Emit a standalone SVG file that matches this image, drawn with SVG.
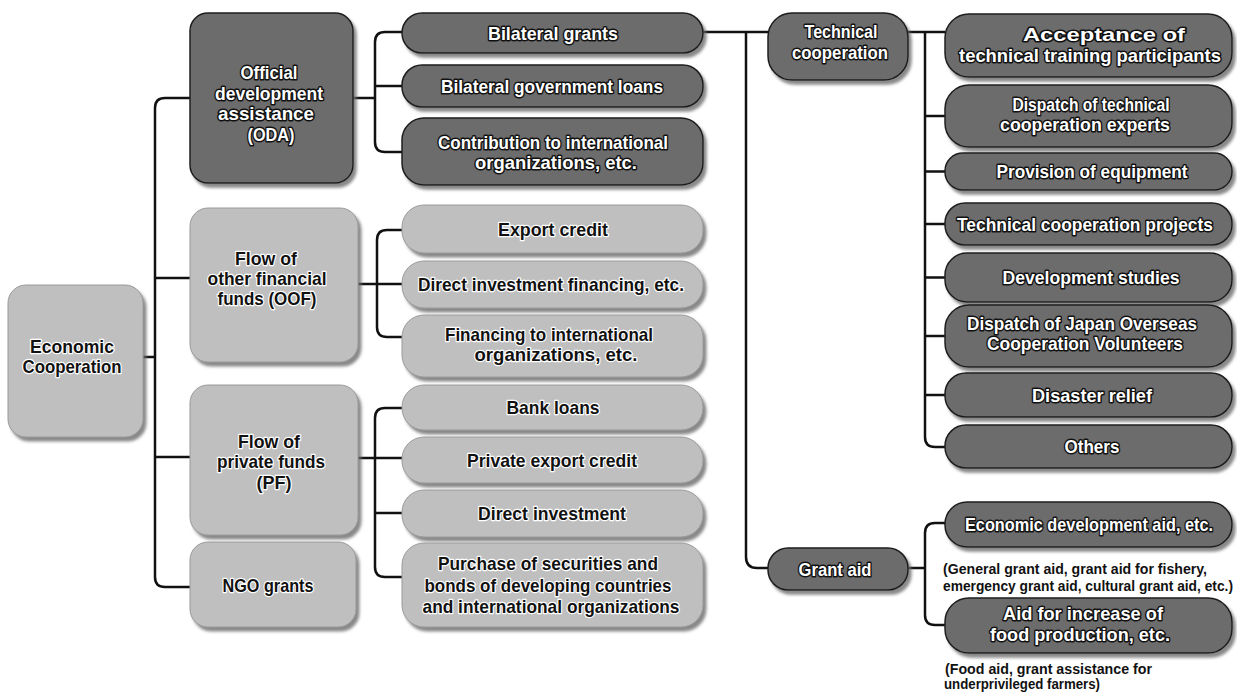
<svg xmlns="http://www.w3.org/2000/svg" width="1237" height="693" viewBox="0 0 1237 693">
<defs>
<filter id="sh" x="-10%" y="-10%" width="125%" height="130%">
<feDropShadow dx="3" dy="4" stdDeviation="1.5" flood-color="#6a6a6a" flood-opacity="0.8"/>
</filter>
</defs>
<style>
.dk{fill:#6c6c6c;stroke:#1e1e1e;stroke-width:1.5;filter:url(#sh)}
.lt{fill:#bfbfbf;stroke:#9a9a9a;stroke-width:1;filter:url(#sh)}
text{font-family:"Liberation Sans",Arial,sans-serif;font-weight:bold;font-size:19px;text-anchor:middle;paint-order:stroke;stroke-linejoin:round}
.w{fill:#fff;stroke:#111;stroke-width:3}
.b{fill:#111;stroke:#fff;stroke-width:2.5}
.cap{fill:#111;font-size:14px;text-anchor:start;stroke:none}
.ln{fill:none;stroke:#111;stroke-width:2.5}
</style>
<rect width="1237" height="693" fill="#fff"/>
<g id="connectors">
<path class="ln" d="M143,357 H155 M190,98 H165 Q155,98 155,108 V577 Q155,587 165,587 H190 M155,278 H190 M155,457 H190"/>
<path class="ln" d="M353,98 H375 M402,32 H385 Q375,32 375,42 V142 Q375,152 385,152 H402 M375,86 H402"/>
<path class="ln" d="M358,284 H402 M402,230 H387 Q377,230 377,240 V327 Q377,337 387,337 H402"/>
<path class="ln" d="M358,458 H402 M402,408 H385 Q375,408 375,418 V567 Q375,577 385,577 H402 M375,513 H402"/>
<path class="ln" d="M703,32 H768 M746,32 V557 Q746,568 757,568 H768"/>
<path class="ln" d="M908,32 H945 M925,32 V437 Q925,447 935,447 H945 M925,116 H945 M925,171.5 H945 M925,224 H945 M925,277.5 H945 M925,336 H945 M925,395 H945"/>
<path class="ln" d="M908,568 H925 M945,523 H935 Q925,523 925,533 V615 Q925,625 935,625 H945"/>
</g>
<g id="n-econ"><rect class="lt" x="8" y="285" width="135" height="152" rx="18"/><text class="b" x="72" y="353" textLength="84" lengthAdjust="spacingAndGlyphs">Economic</text><text class="b" x="72" y="373" textLength="99" lengthAdjust="spacingAndGlyphs">Cooperation</text></g>
<g id="n-oda"><rect class="dk" x="190" y="13" width="163" height="170" rx="18"/><text class="w" x="269" y="79" textLength="57" lengthAdjust="spacingAndGlyphs">Official</text><text class="w" x="269" y="100" textLength="108" lengthAdjust="spacingAndGlyphs">development</text><text class="w" x="266" y="120" textLength="96" lengthAdjust="spacingAndGlyphs">assistance</text><text class="w" x="271" y="141" textLength="47" lengthAdjust="spacingAndGlyphs">(ODA)</text></g>
<g id="n-oof"><rect class="lt" x="190" y="208" width="168" height="154" rx="18"/><text class="b" x="266" y="265" textLength="62" lengthAdjust="spacingAndGlyphs">Flow of</text><text class="b" x="267" y="285" textLength="119" lengthAdjust="spacingAndGlyphs">other financial</text><text class="b" x="267" y="305" textLength="99" lengthAdjust="spacingAndGlyphs">funds (OOF)</text></g>
<g id="n-pf"><rect class="lt" x="190" y="385" width="168" height="150" rx="18"/><text class="b" x="269" y="448" textLength="62" lengthAdjust="spacingAndGlyphs">Flow of</text><text class="b" x="271" y="468" textLength="108" lengthAdjust="spacingAndGlyphs">private funds</text><text class="b" x="274" y="489" textLength="35" lengthAdjust="spacingAndGlyphs">(PF)</text></g>
<g id="n-ngo"><rect class="lt" x="190" y="542" width="166" height="85" rx="18"/><text class="b" x="268" y="592" textLength="91" lengthAdjust="spacingAndGlyphs">NGO grants</text></g>
<g id="n-bg"><rect class="dk" x="402" y="13" width="301" height="40" rx="20"/><text class="w" x="553" y="40" textLength="130" lengthAdjust="spacingAndGlyphs">Bilateral grants</text></g>
<g id="n-bgl"><rect class="dk" x="402" y="65" width="301" height="42" rx="20"/><text class="w" x="552" y="93" textLength="222" lengthAdjust="spacingAndGlyphs">Bilateral government loans</text></g>
<g id="n-contrib"><rect class="dk" x="402" y="118" width="301" height="67" rx="22"/><text class="w" x="553" y="149" textLength="230" lengthAdjust="spacingAndGlyphs">Contribution to international</text><text class="w" x="556" y="169" textLength="162" lengthAdjust="spacingAndGlyphs">organizations, etc.</text></g>
<g id="n-ec"><rect class="lt" x="402" y="205" width="301" height="48" rx="22"/><text class="b" x="553" y="236" textLength="110" lengthAdjust="spacingAndGlyphs">Export credit</text></g>
<g id="n-dif"><rect class="lt" x="402" y="261" width="301" height="47" rx="22"/><text class="b" x="551" y="291" textLength="266" lengthAdjust="spacingAndGlyphs">Direct investment financing, etc.</text></g>
<g id="n-fin"><rect class="lt" x="402" y="315" width="301" height="62" rx="22"/><text class="b" x="549" y="341" textLength="208" lengthAdjust="spacingAndGlyphs">Financing to international</text><text class="b" x="556" y="361" textLength="163" lengthAdjust="spacingAndGlyphs">organizations, etc.</text></g>
<g id="n-bank"><rect class="lt" x="402" y="385" width="301" height="45" rx="22"/><text class="b" x="553" y="414" textLength="93" lengthAdjust="spacingAndGlyphs">Bank loans</text></g>
<g id="n-pec"><rect class="lt" x="402" y="437" width="301" height="46" rx="22"/><text class="b" x="552" y="467" textLength="170" lengthAdjust="spacingAndGlyphs">Private export credit</text></g>
<g id="n-di"><rect class="lt" x="402" y="490" width="301" height="47" rx="22"/><text class="b" x="552" y="520" textLength="148" lengthAdjust="spacingAndGlyphs">Direct investment</text></g>
<g id="n-pur"><rect class="lt" x="402" y="543" width="301" height="84" rx="22"/><text class="b" x="548" y="570" textLength="220" lengthAdjust="spacingAndGlyphs">Purchase of securities and</text><text class="b" x="548" y="592" textLength="247" lengthAdjust="spacingAndGlyphs">bonds of developing countries</text><text class="b" x="551" y="613" textLength="257" lengthAdjust="spacingAndGlyphs">and international organizations</text></g>
<g id="n-tc"><rect class="dk" x="768" y="13" width="140" height="67" rx="24"/><text class="w" x="841" y="38" textLength="73" lengthAdjust="spacingAndGlyphs">Technical</text><text class="w" x="840" y="59" textLength="96" lengthAdjust="spacingAndGlyphs">cooperation</text></g>
<g id="n-ga"><rect class="dk" x="768" y="548" width="140" height="42" rx="20"/><text class="w" x="835" y="576" textLength="73" lengthAdjust="spacingAndGlyphs">Grant aid</text></g>
<g id="n-acc"><rect class="dk" x="945" y="14" width="287" height="63" rx="24"/><text class="w" x="1104" y="41" textLength="162" lengthAdjust="spacingAndGlyphs">Acceptance of</text><text class="w" x="1090" y="62" textLength="262" lengthAdjust="spacingAndGlyphs">technical training participants</text></g>
<g id="n-dte"><rect class="dk" x="945" y="85" width="287" height="62" rx="24"/><text class="w" x="1091" y="111" textLength="157" lengthAdjust="spacingAndGlyphs">Dispatch of technical</text><text class="w" x="1085" y="131" textLength="170" lengthAdjust="spacingAndGlyphs">cooperation experts</text></g>
<g id="n-prov"><rect class="dk" x="945" y="153" width="287" height="37" rx="18"/><text class="w" x="1092" y="178" textLength="191" lengthAdjust="spacingAndGlyphs">Provision of equipment</text></g>
<g id="n-tcp"><rect class="dk" x="945" y="203" width="287" height="42" rx="20"/><text class="w" x="1085" y="231" textLength="256" lengthAdjust="spacingAndGlyphs">Technical cooperation projects</text></g>
<g id="n-ds"><rect class="dk" x="945" y="253" width="287" height="49" rx="22"/><text class="w" x="1091" y="284" textLength="177" lengthAdjust="spacingAndGlyphs">Development studies</text></g>
<g id="n-dj"><rect class="dk" x="945" y="305" width="287" height="62" rx="24"/><text class="w" x="1082" y="330" textLength="230" lengthAdjust="spacingAndGlyphs">Dispatch of Japan Overseas</text><text class="w" x="1085" y="350" textLength="196" lengthAdjust="spacingAndGlyphs">Cooperation Volunteers</text></g>
<g id="n-dr"><rect class="dk" x="945" y="373" width="287" height="44" rx="21"/><text class="w" x="1092" y="402" textLength="120" lengthAdjust="spacingAndGlyphs">Disaster relief</text></g>
<g id="n-oth"><rect class="dk" x="945" y="425" width="287" height="43" rx="21"/><text class="w" x="1092" y="453" textLength="55" lengthAdjust="spacingAndGlyphs">Others</text></g>
<g id="n-eda"><rect class="dk" x="945" y="502" width="287" height="45" rx="22"/><text class="w" x="1089" y="531" textLength="248" lengthAdjust="spacingAndGlyphs">Economic development aid, etc.</text><text class="cap" x="943" y="574" textLength="264" lengthAdjust="spacingAndGlyphs">(General grant aid, grant aid for fishery,</text><text class="cap" x="943" y="591" textLength="290" lengthAdjust="spacingAndGlyphs">emergency grant aid, cultural grant aid, etc.)</text></g>
<g id="n-afi"><rect class="dk" x="945" y="598" width="287" height="55" rx="24"/><text class="w" x="1083" y="620" textLength="160" lengthAdjust="spacingAndGlyphs">Aid for increase of</text><text class="w" x="1080" y="641" textLength="180" lengthAdjust="spacingAndGlyphs">food production, etc.</text><text class="cap" x="945" y="674" textLength="207" lengthAdjust="spacingAndGlyphs">(Food aid, grant assistance for</text><text class="cap" x="944" y="689" textLength="156" lengthAdjust="spacingAndGlyphs">underprivileged farmers)</text></g>
</svg>
